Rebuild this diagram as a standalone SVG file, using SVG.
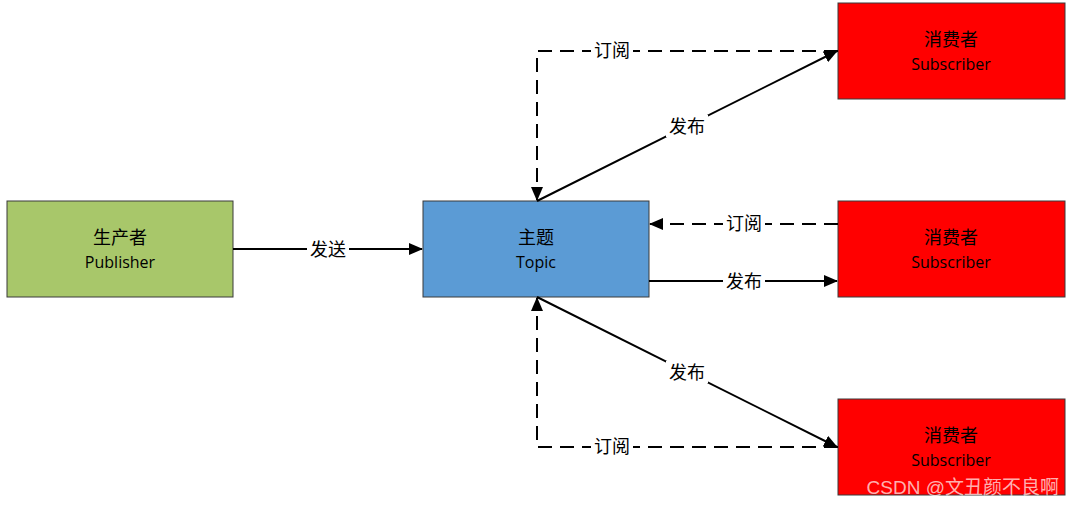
<svg xmlns="http://www.w3.org/2000/svg" width="1073" height="506" viewBox="0 0 1073 506">
<style>
.box{stroke:#3a3a3a;stroke-width:1}
.t1{font-family:"Noto Sans CJK SC","Liberation Sans",sans-serif;font-size:18px;fill:#000;text-anchor:middle}
.t2{font-family:"Open Sans","Liberation Sans",sans-serif;font-size:16px;fill:#000;text-anchor:middle}
.lbl{font-family:"Noto Sans CJK SC","Liberation Sans",sans-serif;font-size:18px;fill:#000;text-anchor:middle}
.solid{fill:none;stroke:#000;stroke-width:2}
.dash{fill:none;stroke:#000;stroke-width:2;stroke-dasharray:14 8}
.bg{fill:#fff}
</style>
<defs>
<marker id="arrL" markerWidth="14" markerHeight="12" refX="13" refY="6" orient="auto" markerUnits="userSpaceOnUse" viewBox="0 0 14 12">
<path d="M0,0 L14,6 L0,12 z" fill="#000"/>
</marker>
</defs>
<rect width="1073" height="506" fill="#fff"/>
<g id="publisher">
<rect class="box" x="7" y="201" width="226" height="96" fill="#a8c76a"/>
<text class="t1" x="120" y="244">生产者</text>
<text class="t2" x="120" y="268">Publisher</text>
</g>
<g id="topic">
<rect class="box" x="423" y="201" width="226" height="96" fill="#5b9bd5"/>
<text class="t1" x="536" y="244">主题</text>
<text class="t2" x="536" y="268">Topic</text>
</g>
<g id="sub1">
<rect class="box" x="838" y="3" width="227" height="96" fill="#ff0000"/>
<text class="t1" x="951" y="46">消费者</text>
<text class="t2" x="951" y="70">Subscriber</text>
</g>
<g id="sub2">
<rect class="box" x="838" y="201" width="227" height="96" fill="#ff0000"/>
<text class="t1" x="951" y="244">消费者</text>
<text class="t2" x="951" y="268">Subscriber</text>
</g>
<g id="sub3">
<rect class="box" x="838" y="399" width="227" height="96" fill="#ff0000"/>
<text class="t1" x="951" y="442">消费者</text>
<text class="t2" x="951" y="466">Subscriber</text>
</g>
<g id="connectors">
<path class="solid" d="M233,249 L422,249" marker-end="url(#arrL)"/>
<rect class="bg" x="307" y="238" width="42" height="22"/>
<text class="lbl" x="328" y="256">发送</text>

<path class="dash" d="M838,51 L537,51 L537,200" marker-end="url(#arrL)"/>
<rect class="bg" x="591" y="40" width="42" height="22"/>
<text class="lbl" x="612" y="57">订阅</text>
<path class="solid" d="M537,201 L837,51" marker-end="url(#arrL)"/>
<rect class="bg" x="666" y="115" width="42" height="22"/>
<text class="lbl" x="687" y="133">发布</text>

<path class="dash" d="M838,224 L650,224" marker-end="url(#arrL)"/>
<rect class="bg" x="723" y="213" width="42" height="22"/>
<text class="lbl" x="744" y="230">订阅</text>
<path class="solid" d="M649,281 L837,281" marker-end="url(#arrL)"/>
<rect class="bg" x="723" y="270" width="42" height="22"/>
<text class="lbl" x="744" y="288">发布</text>

<path class="solid" d="M537,297 L837,447" marker-end="url(#arrL)"/>
<rect class="bg" x="666" y="361" width="42" height="22"/>
<text class="lbl" x="687" y="379">发布</text>
<path class="dash" d="M838,447 L537,447 L537,298" marker-end="url(#arrL)"/>
<rect class="bg" x="591" y="436" width="42" height="22"/>
<text class="lbl" x="612" y="453">订阅</text>
</g>
<text x="1059" y="494" font-family="'Liberation Sans','Noto Sans CJK SC',sans-serif" font-size="19" fill="#ffffff" fill-opacity="0.7" text-anchor="end">CSDN @文丑颜不良啊</text>
</svg>
